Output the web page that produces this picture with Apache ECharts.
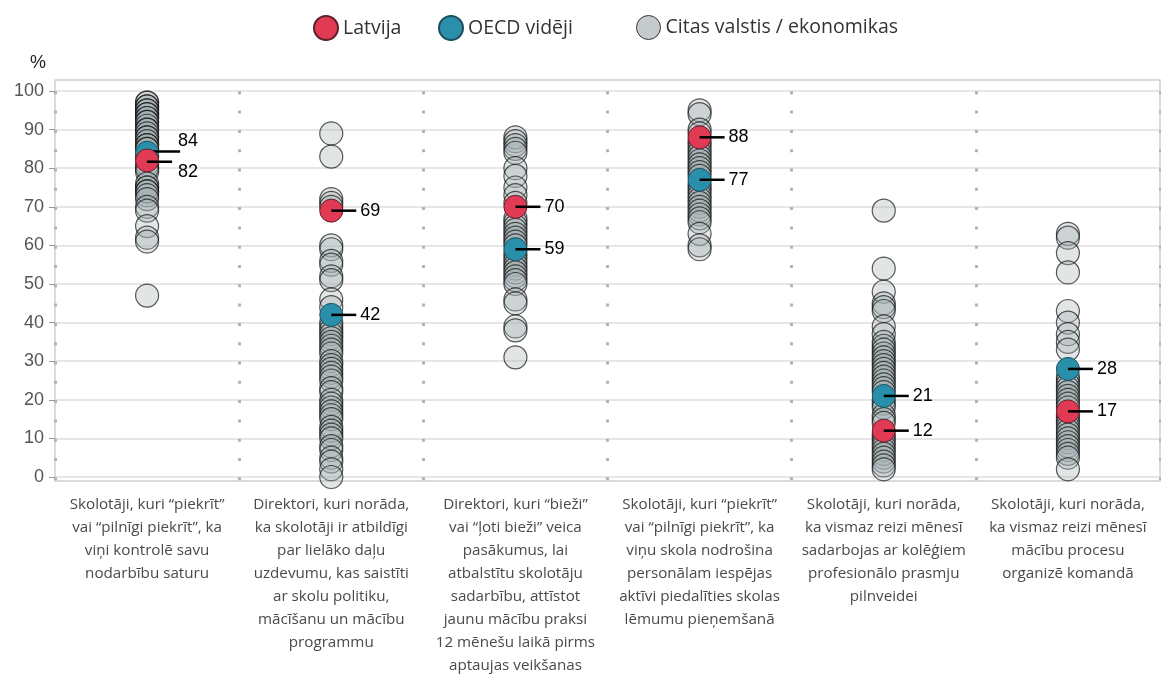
<!DOCTYPE html>
<html>
<head>
<meta charset="utf-8">
<script src="https://cdn.jsdelivr.net/npm/echarts@6/dist/echarts.min.js"></script>
<style>
  html, body { margin: 0; padding: 0; background: #fff; }
  #main { width: 1161px; height: 677px; }
</style>
</head>
<body>
<div id="main"></div>
<script>
// kategorijas (x ass)
var categories = [
    'Skolotāji, kuri “piekrīt”\nvai “pilnīgi piekrīt”, ka\nviņi kontrolē savu\nnodarbību saturu',
    'Direktori, kuri norāda,\nka skolotāji ir atbildīgi\npar lielāko daļu\nuzdevumu, kas saistīti\nar skolu politiku,\nmācīšanu un mācību\nprogrammu',
    'Direktori, kuri “bieži”\nvai “ļoti bieži” veica\npasākumus, lai\natbalstītu skolotāju\nsadarbību, attīstot\njaunu mācību praksi\n12 mēnešu laikā pirms\naptaujas veikšanas',
    'Skolotāji, kuri “piekrīt”\nvai “pilnīgi piekrīt”, ka\nviņu skola nodrošina\npersonālam iespējas\naktīvi piedalīties skolas\nlēmumu pieņemšanā',
    'Skolotāji, kuri norāda,\nka vismaz reizi mēnesī\nsadarbojas ar kolēģiem\nprofesionālo prasmju\npilnveidei',
    'Skolotāji, kuri norāda,\nka vismaz reizi mēnesī\nmācību procesu\norganizē komandā'
];

var latvija = [82, 69, 70, 88, 12, 17];
var oecd = [84, 42, 59, 77, 21, 28];

// citas valstis / ekonomikas - katrai kategorijai
var citas1 = [97, 97, 96, 96, 95, 95, 94, 94, 93, 93, 92, 92, 91, 90, 90, 89, 88, 88, 87, 86, 86, 85, 85, 83, 83, 81, 80, 80, 79, 76, 75, 75, 74, 74, 73, 72, 70, 69, 65, 62, 61, 47];
var citas2 = [89, 83, 72, 71, 70, 60, 59, 56, 55, 52, 51, 46, 44, 40, 39, 38, 37, 36, 35, 34, 33, 32, 30, 29, 28, 27, 26, 25, 23, 22, 20, 19, 18, 17, 16, 15, 13, 12, 11, 10, 8, 7, 5, 4, 2, 0];
var citas3 = [88, 87, 86, 85, 84, 80, 78, 75, 73, 71, 67, 66, 65, 64, 63, 62, 61, 60, 58, 57, 56, 55, 54, 53, 52, 51, 50, 46, 45, 39, 38, 31];
var citas4 = [95, 94, 90, 89, 87, 86, 85, 84, 83, 82, 81, 80, 79, 78, 76, 75, 74, 73, 72, 71, 70, 69, 68, 67, 66, 63, 60, 59];
var citas5 = [69, 54, 48, 45, 44, 43, 39, 37, 35, 34, 33, 32, 31, 30, 29, 28, 27, 26, 25, 24, 23, 22, 20, 19, 18, 16, 15, 14, 11, 10, 9, 8, 7, 6, 5, 4, 3, 2];
var citas6 = [63, 62, 58, 53, 43, 40, 37, 35, 33, 26, 25, 24, 23, 22, 21, 20, 19, 18, 16, 15, 14, 13, 12, 11, 10, 9, 8, 7, 6, 5, 2];

var yTicks = [0, 10, 20, 30, 40, 50, 60, 70, 80, 90, 100];

var citas = [citas1, citas2, citas3, citas4, citas5, citas6];
var citasData = [];
for (let i = 0; i < citas.length; i++) {
    for (let j = 0; j < citas[i].length; j++) {
        citasData.push([i, citas[i][j]]);
    }
}

// vērtību etiķetes ar līniju
var numFont = '"Liberation Sans", Arial, sans-serif';
var sansFont = '"Open Sans", sans-serif';
var rich = {
    line: { width: 25, height: 2.5, backgroundColor: '#000', verticalAlign: 'middle' },
    line2: { width: 33, height: 2.5, backgroundColor: '#000' },
    sp: { width: 27, height: 2 },
    val: { fontSize: 18, color: '#000', fontFamily: numFont, padding: [0, 0, 0, 4], verticalAlign: 'middle' }
};

function makeData(arr, special) {
    let out = [];
    for (let i = 0; i < arr.length; i++) {
        let item = { value: [i, arr[i]] };
        if (i === 0 && special === 'up') {
            item.label = { formatter: '{sp|}{val|' + arr[i] + '}\n{line2|}', verticalAlign: 'bottom' };
        } else if (i === 0 && special === 'down') {
            item.label = { formatter: '{line|}\n{sp|}{val|' + arr[i] + '}', verticalAlign: 'top' };
        }
        out.push(item);
    }
    return out;
}

var labelOpt = {
    show: true,
    position: ['50%', '50%'],
    align: 'left',
    verticalAlign: 'middle',
    formatter: function (p) { return '{line|}{val|' + p.value[1] + '}'; },
    rich: rich
};

var legendText = { fontSize: 19.5, color: '#333', fontFamily: sansFont };

var myChart = echarts.init(document.getElementById('main'));

var option = {
    animation: false,
    title: {
        text: '%',
        left: 25,
        top: 49,
        textStyle: { fontSize: 18, fontWeight: 'normal', color: '#222', fontFamily: numFont }
    },
    legend: [
        {
            data: ['Latvija'], left: 308, top: 10, itemWidth: 24, itemHeight: 24,
            textStyle: legendText
        },
        {
            data: ['OECD vidēji'], left: 433, top: 10, itemWidth: 24, itemHeight: 24,
            textStyle: legendText
        },
        {
            data: ['Citas valstis / ekonomikas'], left: 631, top: 10, itemWidth: 24, itemHeight: 24,
            itemStyle: { color: '#c5cbcc', borderColor: '#333', borderWidth: 1, opacity: 1 },
            textStyle: legendText
        }
    ],
    grid: [
        { left: 55, right: 1, top: 80, bottom: 189, show: true, borderColor: '#cfcfcf', borderWidth: 1.5 },
        { left: 55, right: 1, top: 91, bottom: 200 }
    ],
    xAxis: [
        {
            type: 'category',
            gridIndex: 0,
            data: categories,
            axisLine: { show: false },
            axisTick: { show: false },
            axisLabel: {
                interval: 0,
                margin: 12,
                fontSize: 15.2,
                lineHeight: 23,
                color: '#4a4a4a',
                fontFamily: sansFont,
                verticalAlign: 'top'
            },
            splitLine: {
                show: true,
                interval: 0,
                lineStyle: { color: '#b3b3b3', width: 3, type: [3, 16.3], dashOffset: 8 }
            }
        },
        {
            type: 'category',
            gridIndex: 1,
            data: categories,
            show: false
        }
    ],
    yAxis: [
        {
            type: 'value',
            gridIndex: 0,
            min: 0,
            max: 100,
            show: false,
            splitLine: { show: false }
        },
        {
            type: 'value',
            gridIndex: 1,
            min: 0,
            max: 100,
            interval: 10,
            axisLine: { show: false },
            axisTick: { show: true, length: 6, lineStyle: { color: '#999' } },
            axisLabel: {
                margin: 11,
                fontSize: 18,
                color: '#555',
                fontFamily: numFont,
                formatter: function (v) { return yTicks.indexOf(v) >= 0 ? v : ''; }
            },
            splitLine: { show: true, lineStyle: { color: '#dedede', width: 1.5 } }
        }
    ],
    series: [
        {
            name: 'Citas valstis / ekonomikas',
            type: 'scatter',
            xAxisIndex: 1,
            yAxisIndex: 1,
            symbolSize: 23,
            data: citasData,
            itemStyle: {
                opacity: 1,
                color: 'rgba(165,177,180,0.33)',
                borderColor: 'rgba(20,20,20,0.7)',
                borderWidth: 1.2
            },
            emphasis: { disabled: true }
        },
        {
            name: 'OECD vidēji',
            type: 'scatter',
            xAxisIndex: 1,
            yAxisIndex: 1,
            symbolSize: 23,
            z: 3,
            data: makeData(oecd, 'up'),
            itemStyle: { opacity: 1, color: '#2a8fab', borderColor: '#1f4f5e', borderWidth: 1 },
            label: labelOpt
        },
        {
            name: 'Latvija',
            type: 'scatter',
            xAxisIndex: 1,
            yAxisIndex: 1,
            symbolSize: 23,
            z: 4,
            data: makeData(latvija, 'down'),
            itemStyle: { opacity: 1, color: '#e03a55', borderColor: '#5e2029', borderWidth: 1 },
            label: labelOpt
        }
    ]
};

myChart.setOption(option);
</script>
</body>
</html>
